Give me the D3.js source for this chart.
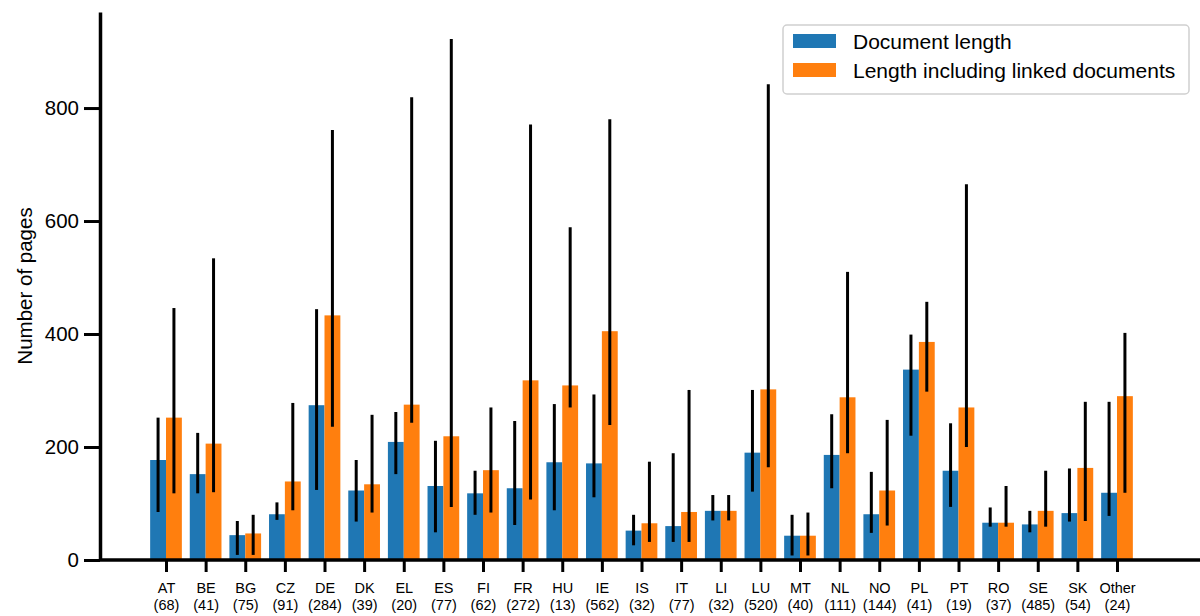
<!DOCTYPE html>
<html><head><meta charset="utf-8">
<script src="https://cdn.jsdelivr.net/npm/d3@7"></script>
<style>body{margin:0;background:#fff}svg{display:block;font-family:"Liberation Sans",Arial,sans-serif}</style>
</head><body><svg id="c" width="1200" height="616"></svg>
<script>
const categories = ["AT","BE","BG","CZ","DE","DK","EL","ES","FI","FR","HU","IE","IS","IT","LI","LU","MT","NL","NO","PL","PT","RO","SE","SK","Other"];
const counts = [68,41,75,91,284,39,20,77,62,272,13,562,32,77,32,520,40,111,144,41,19,37,485,54,24];
const docLength = [177,152,44,81,274,123,209,131,118,127,173,171,52,60,87,190,43,186,81,337,158,66,63,83,119];
const docLow = [85,118,9,71,124,68,152,49,80,62,88,111,26,32,70,121,8,127,48,220,94,59,49,68,78];
const docHigh = [252,225,69,102,444,177,262,211,158,246,276,293,80,189,115,301,80,258,156,399,242,93,87,162,280];
const linkedLength = [252,206,47,139,433,134,275,219,159,318,309,405,65,85,87,302,43,288,123,386,270,66,87,163,290];
const linkedLow = [118,120,9,88,236,84,243,94,84,107,270,239,32,32,70,164,8,189,61,298,200,59,59,69,119];
const linkedHigh = [446,534,80,278,761,257,819,922,270,771,589,780,174,301,115,842,84,510,248,457,665,131,158,280,402];
const yTicks = [0,200,400,600,800];
const seriesNames = ["Document length","Length including linked documents"];
const colors = ["#1f77b4","#ff7f0e"];

const svg = d3.select("#c");
const x = d3.scaleLinear().domain([0, categories.length - 1]).range([166, 1117]);
const y = d3.scaleLinear().domain([0, 970]).range([560, 12]);
const step = x(1) - x(0);
const bw = step * 0.4;

const series = [
  {vals: docLength, lo: docLow, hi: docHigh, off: -bw/2, color: colors[0]},
  {vals: linkedLength, lo: linkedLow, hi: linkedHigh, off: bw/2, color: colors[1]}
];

series.forEach(s => {
  svg.append("g").selectAll("rect").data(categories).join("rect")
    .attr("x", (d,i) => x(i) + s.off - bw/2)
    .attr("width", bw)
    .attr("y", (d,i) => y(s.vals[i]))
    .attr("height", (d,i) => y(0) - y(s.vals[i]))
    .attr("fill", s.color);
});
series.forEach(s => {
  svg.append("g").selectAll("line").data(categories).join("line")
    .attr("x1", (d,i) => x(i) + s.off).attr("x2", (d,i) => x(i) + s.off)
    .attr("y1", (d,i) => y(s.lo[i])).attr("y2", (d,i) => y(s.hi[i]))
    .attr("stroke", "#000").attr("stroke-width", 3);
});

// Y axis
const ya = svg.append("g").attr("transform", "translate(100,0)")
  .call(d3.axisLeft(y).tickValues(yTicks).tickSize(16).tickPadding(5).tickSizeOuter(0));
ya.select(".domain").attr("stroke-width", 3.5);
ya.selectAll(".tick line").attr("stroke-width", 3);
ya.selectAll(".tick text").attr("font-size", 20.5).attr("fill", "#000").attr("font-family", "Liberation Sans, Arial, sans-serif");

// X axis
const xa = svg.append("g").attr("transform", "translate(0,560)")
  .call(d3.axisBottom(x).tickValues(d3.range(categories.length)).tickSize(12).tickFormat(""));
xa.select(".domain").attr("d", "M100,0H1200").attr("stroke-width", 3.5);
xa.selectAll(".tick line").attr("stroke-width", 3);
xa.selectAll(".tick").each(function(d) {
  const t = d3.select(this).append("text").attr("fill", "#000").attr("font-size", 14.5)
    .attr("text-anchor", "middle").attr("font-family", "Liberation Sans, Arial, sans-serif");
  t.append("tspan").attr("x", 0).attr("y", 33).text(categories[d]);
  t.append("tspan").attr("x", 0).attr("y", 50).text("(" + counts[d] + ")");
});

// Y label
svg.append("text").attr("transform", "translate(32,286) rotate(-90)")
  .attr("text-anchor", "middle").attr("font-size", 20.5).attr("fill", "#000")
  .text("Number of pages");

// Legend
const lg = svg.append("g").attr("transform", "translate(783,25)");
lg.append("rect").attr("x", 0).attr("y", 0).attr("width", 406).attr("height", 69)
  .attr("rx", 4).attr("fill", "#fff").attr("stroke", "#d0d0d0").attr("stroke-width", 1.5);
seriesNames.forEach((n, i) => {
  lg.append("rect").attr("x", 10).attr("y", 9 + i*29).attr("width", 43).attr("height", 14).attr("fill", colors[i]);
  lg.append("text").attr("x", 70).attr("y", 24 + i*29).attr("font-size", 21).attr("fill", "#000").text(n);
});
</script></body></html>
